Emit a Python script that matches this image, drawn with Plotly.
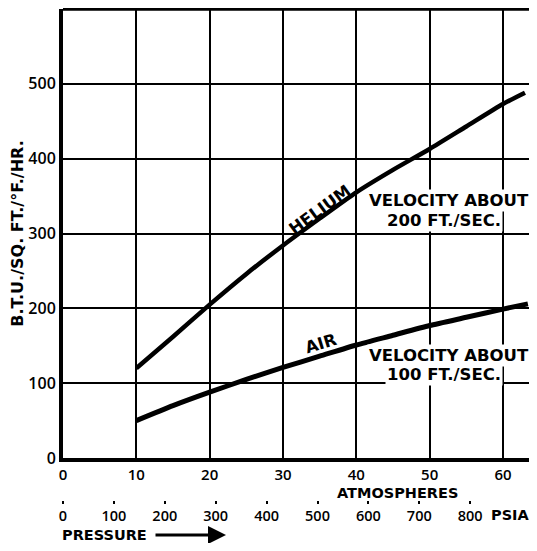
import plotly.graph_objects as go

# Data
helium_atm = [10, 15, 20, 25, 30, 35, 40, 45, 50, 55, 60, 63]
helium_btu = [120, 162, 205, 246, 284, 320, 355, 385, 413, 443, 473, 488]

air_atm = [10, 15, 20, 25, 30, 35, 40, 45, 50, 55, 60, 63.4]
air_btu = [50, 70, 88, 105, 121, 136, 151, 164, 177, 188, 199, 206]

atm_ticks = [0, 10, 20, 30, 40, 50, 60]
btu_ticks = [0, 100, 200, 300, 400, 500]
psia_ticks = [0, 100, 200, 300, 400, 500, 600, 700, 800]

TICK_FONT = "Open Sans"
LABEL_FONT = "DejaVu Sans"
OFF = 8  # page body margin (each side)
W, H = 537 - 2 * OFF, 551 - 2 * OFF
ML, MR, MT, MB = 55, 0, 1, 0
paper_h = H - MT - MB
ydom0 = (H - MB - (458 - OFF)) / paper_h


def px_x(rx):
    return (rx - OFF - ML) / (W - ML - MR)


def px_y(ry):
    return (H - MB - (ry - OFF)) / paper_h


fig = go.Figure()
fig.add_trace(go.Scatter(x=helium_atm, y=helium_btu, mode="lines",
                         line=dict(color="black", width=4.5, shape="spline", smoothing=0.6),
                         hoverinfo="skip", showlegend=False))
fig.add_trace(go.Scatter(x=air_atm, y=air_btu, mode="lines",
                         line=dict(color="black", width=5, shape="spline", smoothing=0.6),
                         hoverinfo="skip", showlegend=False))
# invisible trace for PSIA axis
fig.add_trace(go.Scatter(x=[0], y=[0], xaxis="x2", mode="markers",
                         marker=dict(opacity=0), hoverinfo="skip", showlegend=False))

tickfont = dict(family=TICK_FONT, size=16, color="black", weight=600)

fig.update_layout(
    width=W, height=H,
    margin=dict(l=ML, r=MR, t=MT, b=MB, autoexpand=False),
    paper_bgcolor="white", plot_bgcolor="white",
    xaxis=dict(range=[0, 63.55], tickvals=atm_ticks, ticktext=[str(v) for v in atm_ticks],
               showgrid=True, gridcolor="black", gridwidth=2.2,
               showline=True, linecolor="black", linewidth=4, automargin=False,
               ticks="", tickfont=dict(family=TICK_FONT, size=15, color="black", weight=600),
               zeroline=False, anchor="y"),
    yaxis=dict(range=[0, 600], tickvals=btu_ticks, domain=[ydom0, 1],
               showgrid=True, gridcolor="black", gridwidth=2.2, automargin=False,
               showline=True, linecolor="black", linewidth=4,
               ticks="", tickfont=tickfont, zeroline=False,
               title=dict(text="B.T.U./SQ. FT./°F./HR.",
                          font=dict(family=LABEL_FONT, size=16, color="black", weight="bold"),
                          standoff=16)),
    xaxis2=dict(range=[0, 915.5], overlaying="x", anchor="free", position=px_y(500),
                side="bottom", tickvals=psia_ticks, showgrid=False, showline=False,
                zeroline=False, ticks="outside", ticklen=3, tickwidth=2, tickcolor="black",
                automargin=False,
                tickfont=dict(family=TICK_FONT, size=14.5, color="black", weight=600)),
)

# top border
fig.add_shape(type="line", xref="paper", yref="paper", x0=0, x1=1, y0=1, y1=1,
              line=dict(color="black", width=3.5))

ann_font = dict(family=LABEL_FONT, size=16.5, color="black", weight="bold")
small_font = dict(family=LABEL_FONT, size=14.5, color="black", weight="bold")

fig.add_annotation(x=35.1, y=332, xref="x", yref="y", text="HELIUM", textangle=-36,
                   showarrow=False, font=ann_font)
fig.add_annotation(x=35.2, y=153, xref="x", yref="y", text="AIR", textangle=-17,
                   showarrow=False, font=ann_font)
fig.add_annotation(x=52.7, y=344, xref="x", yref="y", text="VELOCITY ABOUT",
                   showarrow=False, font=ann_font, bgcolor="white", borderpad=1)
fig.add_annotation(x=51.9, y=317, xref="x", yref="y", text="200 FT./SEC.",
                   showarrow=False, font=ann_font, bgcolor="white", borderpad=1)
fig.add_annotation(x=52.7, y=137, xref="x", yref="y", text="VELOCITY ABOUT",
                   showarrow=False, font=ann_font, bgcolor="white", borderpad=1)
fig.add_annotation(x=51.9, y=111, xref="x", yref="y", text="100 FT./SEC.",
                   showarrow=False, font=ann_font, bgcolor="white", borderpad=1)

fig.add_annotation(x=px_x(397), y=px_y(493), xref="paper", yref="paper", text="ATMOSPHERES",
                   xanchor="center", yanchor="middle", showarrow=False, font=small_font)
fig.add_annotation(x=px_x(510), y=px_y(515), xref="paper", yref="paper", text="PSIA",
                   xanchor="center", yanchor="middle", showarrow=False, font=small_font)
fig.add_annotation(x=px_x(60), y=px_y(535), xref="paper", yref="paper", text="PRESSURE",
                   xanchor="left", yanchor="middle", showarrow=False, font=small_font)
fig.add_annotation(x=px_x(226), y=px_y(535), xref="paper", yref="paper", text="",
                   ax=-72, ay=0, showarrow=True, arrowhead=2, arrowsize=1.2,
                   arrowwidth=3, arrowcolor="black")

fig.write_html("out.html")
